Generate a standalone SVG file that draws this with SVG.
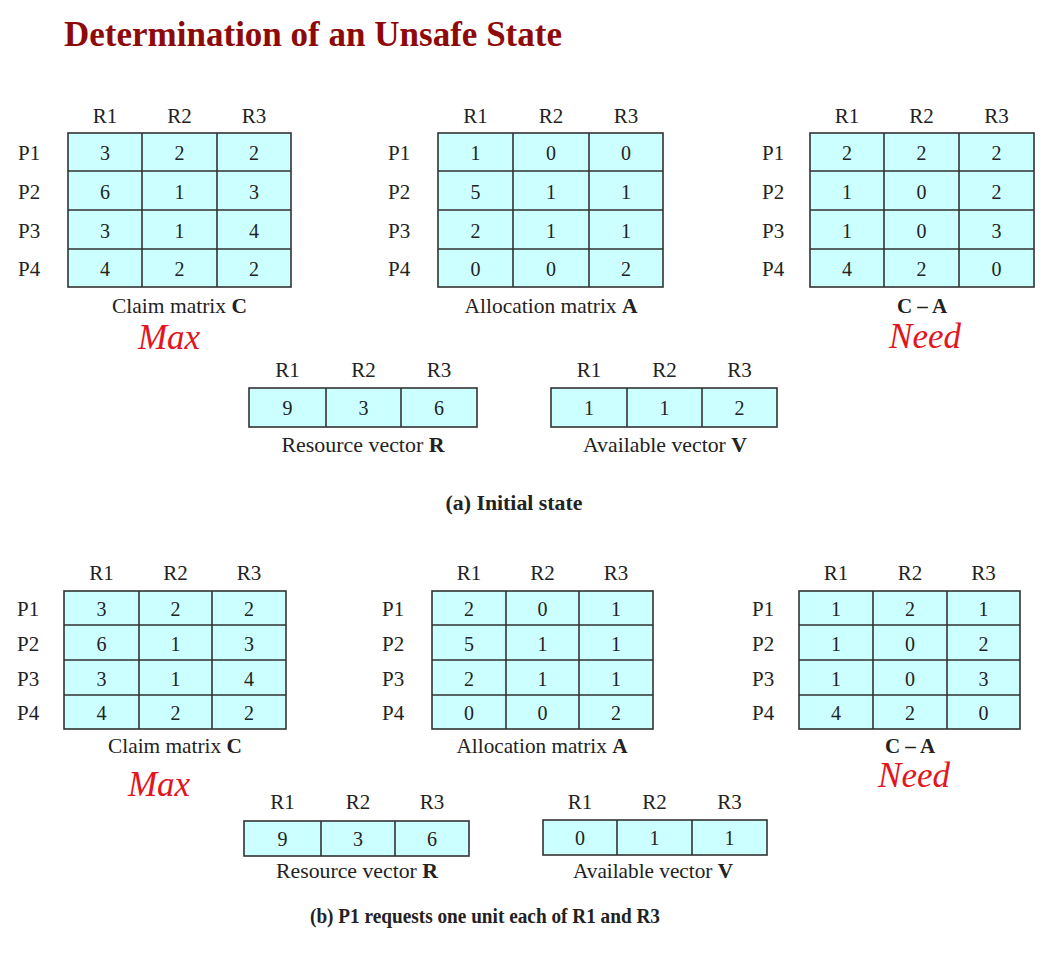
<svg xmlns="http://www.w3.org/2000/svg" width="1063" height="959" viewBox="0 0 1063 959">
<style>
.box{fill:#ccffff;stroke:#333;stroke-width:1.6}
.grid{fill:none;stroke:#333;stroke-width:1.6}
text{font-family:"Liberation Serif","Times New Roman",serif;fill:#222}
.v{font-size:20px;text-anchor:middle}
.h{font-size:21px;text-anchor:middle}
.p{font-size:21px;text-anchor:start}
.lbl{font-size:21px;text-anchor:middle}
.b{font-weight:bold}
.red{fill:#e3161e;font-style:italic;font-size:35px;text-anchor:middle}
.cap{font-size:20px;font-weight:bold;text-anchor:middle}
.title{fill:#8e0a0a;font-size:36px;font-weight:bold}
</style>
<rect width="1063" height="959" fill="#fff"/>
<text class="title" x="64" y="46" textLength="498" lengthAdjust="spacingAndGlyphs">Determination of an Unsafe State</text>

<g id="claim-a">
<text class="h" x="105" y="123">R1</text><text class="h" x="179.5" y="123">R2</text><text class="h" x="254" y="123">R3</text>
<rect class="box" x="68" y="133" width="223" height="154"/>
<path class="grid" d="M142 133V287M217 133V287M68 171H291M68 210H291M68 249H291"/>
<text class="p" x="18" y="160">P1</text><text class="p" x="18" y="198.5">P2</text><text class="p" x="18" y="237.5">P3</text><text class="p" x="18" y="276">P4</text>
<text class="v" x="105" y="160">3</text><text class="v" x="179.5" y="160">2</text><text class="v" x="254" y="160">2</text>
<text class="v" x="105" y="198.5">6</text><text class="v" x="179.5" y="198.5">1</text><text class="v" x="254" y="198.5">3</text>
<text class="v" x="105" y="237.5">3</text><text class="v" x="179.5" y="237.5">1</text><text class="v" x="254" y="237.5">4</text>
<text class="v" x="105" y="276">4</text><text class="v" x="179.5" y="276">2</text><text class="v" x="254" y="276">2</text>
<text class="lbl" x="179.5" y="313" textLength="135" lengthAdjust="spacingAndGlyphs">Claim matrix <tspan class="b">C</tspan></text>
<text class="red" x="169" y="349">Max</text>
</g>

<g id="alloc-a">
<text class="h" x="475.5" y="123">R1</text><text class="h" x="551" y="123">R2</text><text class="h" x="626" y="123">R3</text>
<rect class="box" x="438" y="133" width="225" height="154"/>
<path class="grid" d="M513 133V287M589 133V287M438 171H663M438 210H663M438 249H663"/>
<text class="p" x="388" y="160">P1</text><text class="p" x="388" y="198.5">P2</text><text class="p" x="388" y="237.5">P3</text><text class="p" x="388" y="276">P4</text>
<text class="v" x="475.5" y="160">1</text><text class="v" x="551" y="160">0</text><text class="v" x="626" y="160">0</text>
<text class="v" x="475.5" y="198.5">5</text><text class="v" x="551" y="198.5">1</text><text class="v" x="626" y="198.5">1</text>
<text class="v" x="475.5" y="237.5">2</text><text class="v" x="551" y="237.5">1</text><text class="v" x="626" y="237.5">1</text>
<text class="v" x="475.5" y="276">0</text><text class="v" x="551" y="276">0</text><text class="v" x="626" y="276">2</text>
<text class="lbl" x="551" y="313" textLength="173" lengthAdjust="spacingAndGlyphs">Allocation matrix <tspan class="b">A</tspan></text>
</g>

<g id="need-a">
<text class="h" x="847" y="123">R1</text><text class="h" x="921.5" y="123">R2</text><text class="h" x="996.5" y="123">R3</text>
<rect class="box" x="810" y="133" width="224" height="154"/>
<path class="grid" d="M884 133V287M959 133V287M810 171H1034M810 210H1034M810 249H1034"/>
<text class="p" x="762" y="160">P1</text><text class="p" x="762" y="198.5">P2</text><text class="p" x="762" y="237.5">P3</text><text class="p" x="762" y="276">P4</text>
<text class="v" x="847" y="160">2</text><text class="v" x="921.5" y="160">2</text><text class="v" x="996.5" y="160">2</text>
<text class="v" x="847" y="198.5">1</text><text class="v" x="921.5" y="198.5">0</text><text class="v" x="996.5" y="198.5">2</text>
<text class="v" x="847" y="237.5">1</text><text class="v" x="921.5" y="237.5">0</text><text class="v" x="996.5" y="237.5">3</text>
<text class="v" x="847" y="276">4</text><text class="v" x="921.5" y="276">2</text><text class="v" x="996.5" y="276">0</text>
<text class="lbl b" x="922" y="313">C – A</text>
<text class="red" x="925" y="348">Need</text>
</g>

<g id="resource-a">
<text class="h" x="287.5" y="377">R1</text><text class="h" x="363.5" y="377">R2</text><text class="h" x="439" y="377">R3</text>
<rect class="box" x="249" y="388" width="228" height="39"/>
<path class="grid" d="M326 388V427M401 388V427"/>
<text class="v" x="287.5" y="415">9</text><text class="v" x="363.5" y="415">3</text><text class="v" x="439" y="415">6</text>
<text class="lbl" x="363" y="452" textLength="163" lengthAdjust="spacingAndGlyphs">Resource vector <tspan class="b">R</tspan></text>
</g>

<g id="available-a">
<text class="h" x="589" y="377">R1</text><text class="h" x="664.5" y="377">R2</text><text class="h" x="739.5" y="377">R3</text>
<rect class="box" x="551" y="388" width="226" height="39"/>
<path class="grid" d="M627 388V427M702 388V427"/>
<text class="v" x="589" y="415">1</text><text class="v" x="664.5" y="415">1</text><text class="v" x="739.5" y="415">2</text>
<text class="lbl" x="665" y="452" textLength="164" lengthAdjust="spacingAndGlyphs">Available vector <tspan class="b">V</tspan></text>
</g>

<text class="cap" x="514" y="510" textLength="137" lengthAdjust="spacingAndGlyphs">(a) Initial state</text>

<g id="claim-b">
<text class="h" x="101.5" y="580">R1</text><text class="h" x="175.5" y="580">R2</text><text class="h" x="249" y="580">R3</text>
<rect class="box" x="64" y="591" width="222" height="138"/>
<path class="grid" d="M139 591V729M212 591V729M64 625H286M64 660H286M64 695H286"/>
<text class="p" x="17" y="616">P1</text><text class="p" x="17" y="650.5">P2</text><text class="p" x="17" y="685.5">P3</text><text class="p" x="17" y="720">P4</text>
<text class="v" x="101.5" y="616">3</text><text class="v" x="175.5" y="616">2</text><text class="v" x="249" y="616">2</text>
<text class="v" x="101.5" y="650.5">6</text><text class="v" x="175.5" y="650.5">1</text><text class="v" x="249" y="650.5">3</text>
<text class="v" x="101.5" y="685.5">3</text><text class="v" x="175.5" y="685.5">1</text><text class="v" x="249" y="685.5">4</text>
<text class="v" x="101.5" y="720">4</text><text class="v" x="175.5" y="720">2</text><text class="v" x="249" y="720">2</text>
<text class="lbl" x="175" y="753" textLength="134" lengthAdjust="spacingAndGlyphs">Claim matrix <tspan class="b">C</tspan></text>
<text class="red" x="159" y="796">Max</text>
</g>

<g id="alloc-b">
<text class="h" x="469" y="580">R1</text><text class="h" x="542.5" y="580">R2</text><text class="h" x="616" y="580">R3</text>
<rect class="box" x="432" y="591" width="221" height="138"/>
<path class="grid" d="M506 591V729M579 591V729M432 625H653M432 660H653M432 695H653"/>
<text class="p" x="382" y="616">P1</text><text class="p" x="382" y="650.5">P2</text><text class="p" x="382" y="685.5">P3</text><text class="p" x="382" y="720">P4</text>
<text class="v" x="469" y="616">2</text><text class="v" x="542.5" y="616">0</text><text class="v" x="616" y="616">1</text>
<text class="v" x="469" y="650.5">5</text><text class="v" x="542.5" y="650.5">1</text><text class="v" x="616" y="650.5">1</text>
<text class="v" x="469" y="685.5">2</text><text class="v" x="542.5" y="685.5">1</text><text class="v" x="616" y="685.5">1</text>
<text class="v" x="469" y="720">0</text><text class="v" x="542.5" y="720">0</text><text class="v" x="616" y="720">2</text>
<text class="lbl" x="542" y="753" textLength="171" lengthAdjust="spacingAndGlyphs">Allocation matrix <tspan class="b">A</tspan></text>
</g>

<g id="need-b">
<text class="h" x="836" y="580">R1</text><text class="h" x="910" y="580">R2</text><text class="h" x="983.5" y="580">R3</text>
<rect class="box" x="799" y="591" width="221" height="138"/>
<path class="grid" d="M873 591V729M947 591V729M799 625H1020M799 660H1020M799 695H1020"/>
<text class="p" x="752" y="616">P1</text><text class="p" x="752" y="650.5">P2</text><text class="p" x="752" y="685.5">P3</text><text class="p" x="752" y="720">P4</text>
<text class="v" x="836" y="616">1</text><text class="v" x="910" y="616">2</text><text class="v" x="983.5" y="616">1</text>
<text class="v" x="836" y="650.5">1</text><text class="v" x="910" y="650.5">0</text><text class="v" x="983.5" y="650.5">2</text>
<text class="v" x="836" y="685.5">1</text><text class="v" x="910" y="685.5">0</text><text class="v" x="983.5" y="685.5">3</text>
<text class="v" x="836" y="720">4</text><text class="v" x="910" y="720">2</text><text class="v" x="983.5" y="720">0</text>
<text class="lbl b" x="910" y="753">C – A</text>
<text class="red" x="914" y="787">Need</text>
</g>

<g id="resource-b">
<text class="h" x="282.5" y="809">R1</text><text class="h" x="358" y="809">R2</text><text class="h" x="432" y="809">R3</text>
<rect class="box" x="244" y="821" width="225" height="35"/>
<path class="grid" d="M321 821V856M395 821V856"/>
<text class="v" x="282.5" y="846">9</text><text class="v" x="358" y="846">3</text><text class="v" x="432" y="846">6</text>
<text class="lbl" x="357" y="878" textLength="162" lengthAdjust="spacingAndGlyphs">Resource vector <tspan class="b">R</tspan></text>
</g>

<g id="available-b">
<text class="h" x="580" y="809">R1</text><text class="h" x="654.5" y="809">R2</text><text class="h" x="729.5" y="809">R3</text>
<rect class="box" x="543" y="820" width="224" height="35"/>
<path class="grid" d="M617 820V855M692 820V855"/>
<text class="v" x="580" y="845">0</text><text class="v" x="654.5" y="845">1</text><text class="v" x="729.5" y="845">1</text>
<text class="lbl" x="653" y="878" textLength="160" lengthAdjust="spacingAndGlyphs">Available vector <tspan class="b">V</tspan></text>
</g>

<text class="cap" x="485" y="923" textLength="350" lengthAdjust="spacingAndGlyphs">(b) P1 requests one unit each of R1 and R3</text>
</svg>
